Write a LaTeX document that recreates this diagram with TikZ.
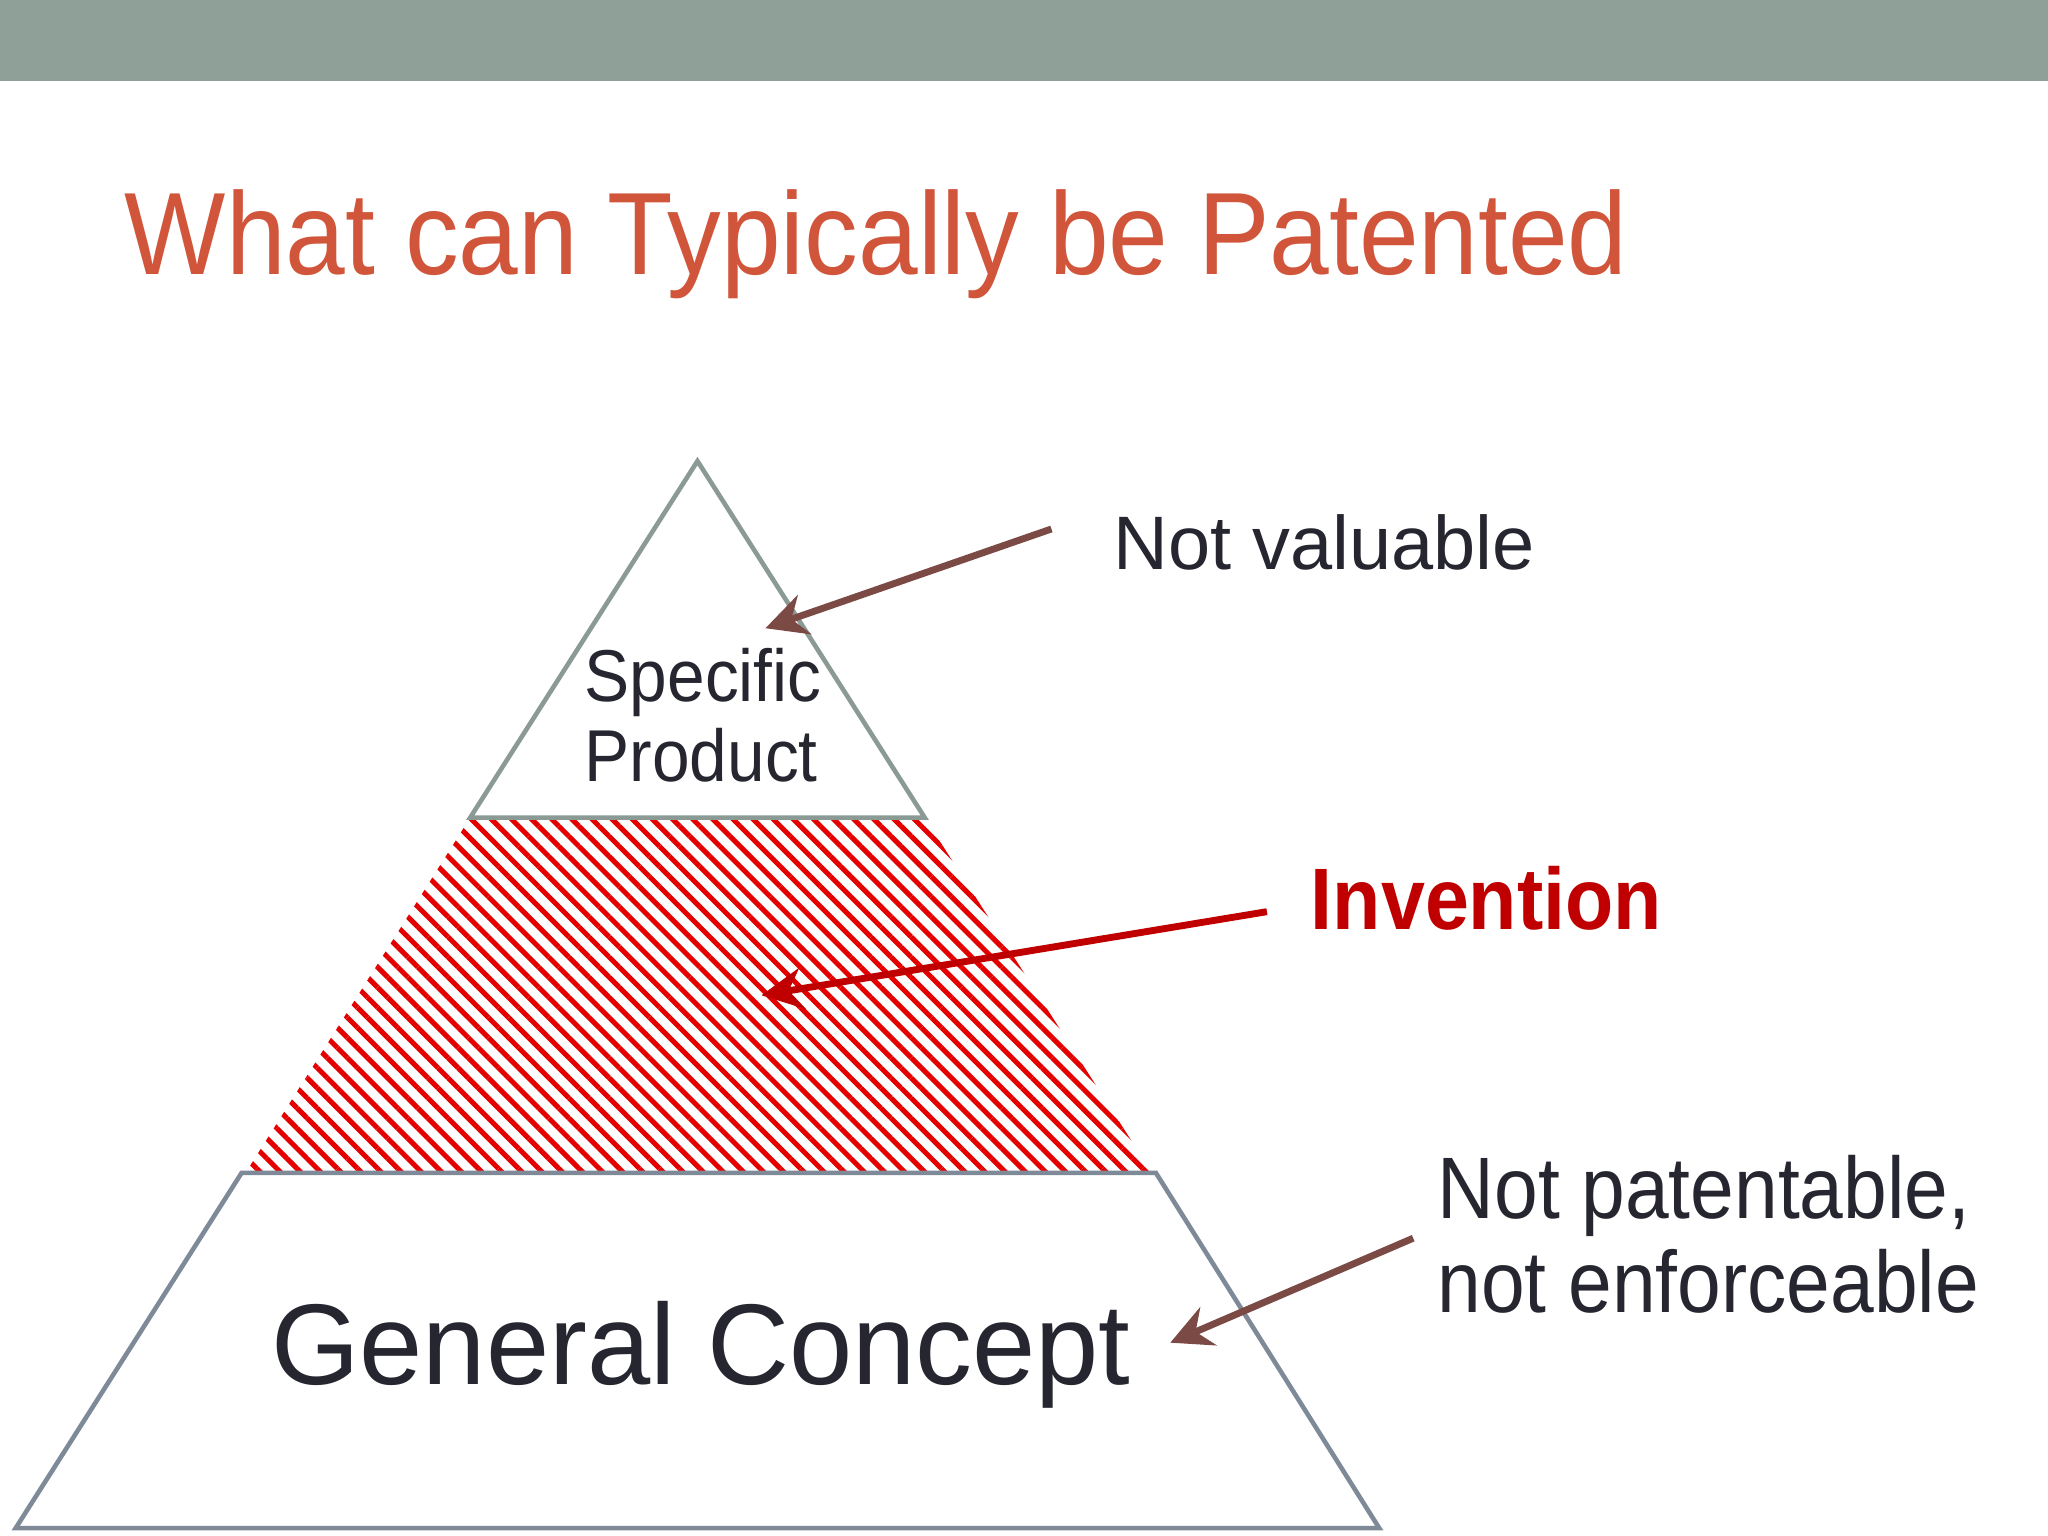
\documentclass[tikz,border=0pt]{standalone}
\usepackage{fontspec}
\setmainfont{Liberation Sans}
\usetikzlibrary{patterns.meta,arrows.meta}
\definecolor{band}{HTML}{8FA098}
\definecolor{titlec}{HTML}{D0553A}
\definecolor{brownar}{HTML}{7B4A44}
\definecolor{darkred}{HTML}{C00000}
\definecolor{txt}{HTML}{262630}
\definecolor{edgeg}{HTML}{8C9A96}
\definecolor{edgeb}{HTML}{7F8A99}
\newcommand{\narrow}[1]{\addfontfeature{FakeStretch=#1}}
\tikzset{
  lbl/.style={anchor=base west,inner sep=0pt,text=txt},
  arr/.style={line width=1.5pt,-{Stealth[length=9pt,width=9pt,inset=3pt]}},
}
\begin{document}
\begin{tikzpicture}[x=0.01cm,y=-0.01cm]
\useasboundingbox (0,0) rectangle (1568,1176);
\fill[white] (0,0) rectangle (1568,1176);
\fill[band] (0,0) rectangle (1568,62);
\node[lbl,text=titlec,font=\fontsize{25.5}{30}\selectfont\narrow{0.916}] (title) at (95,210) {What can Typically be Patented};
% pyramid
\fill[pattern={Lines[angle=-45,distance=3.1pt,line width=1.1pt]},pattern color=red!90!black] (360,626) -- (708,626) -- (882,898) -- (188,898) -- cycle;
\draw[edgeg,line width=1pt] (360,626) -- (534,353) -- (708,626) -- cycle;
\draw[edgeb,line width=1pt] (185,898) -- (885,898) -- (1056,1170) -- (12,1170) -- cycle;
\node[lbl,font=\fontsize{16}{19}\selectfont\narrow{0.92}] (sp1) at (447,537) {Specific};
\node[lbl,font=\fontsize{16}{19}\selectfont\narrow{0.92}] (sp2) at (447,598) {Product};
\node[lbl,font=\fontsize{25}{30}\selectfont\narrow{0.99}] (gc) at (207,1060) {General Concept};
\node[lbl,font=\fontsize{16.5}{20}\selectfont] (nv) at (852,436) {Not valuable};
\node[lbl,text=darkred,font=\bfseries\fontsize{19}{23}\selectfont\narrow{0.905}] (inv) at (1003,712) {Invention};
\node[lbl,font=\fontsize{19}{23}\selectfont\narrow{0.9}] (np1) at (1100,933) {Not patentable,};
\node[lbl,font=\fontsize{19}{23}\selectfont\narrow{0.9}] (np2) at (1100,1005) {not enforceable};
\coordinate (a1s) at (805,405); \coordinate (a1e) at (586,481);
\coordinate (a2s) at (970,698); \coordinate (a2e) at (583,762);
\coordinate (a3s) at (1082,948); \coordinate (a3e) at (896,1028);
\draw[arr,brownar] (a1s) -- (a1e);
\draw[arr,darkred] (a2s) -- (a2e);
\draw[arr,brownar] (a3s) -- (a3e);
\end{tikzpicture}
\end{document}
